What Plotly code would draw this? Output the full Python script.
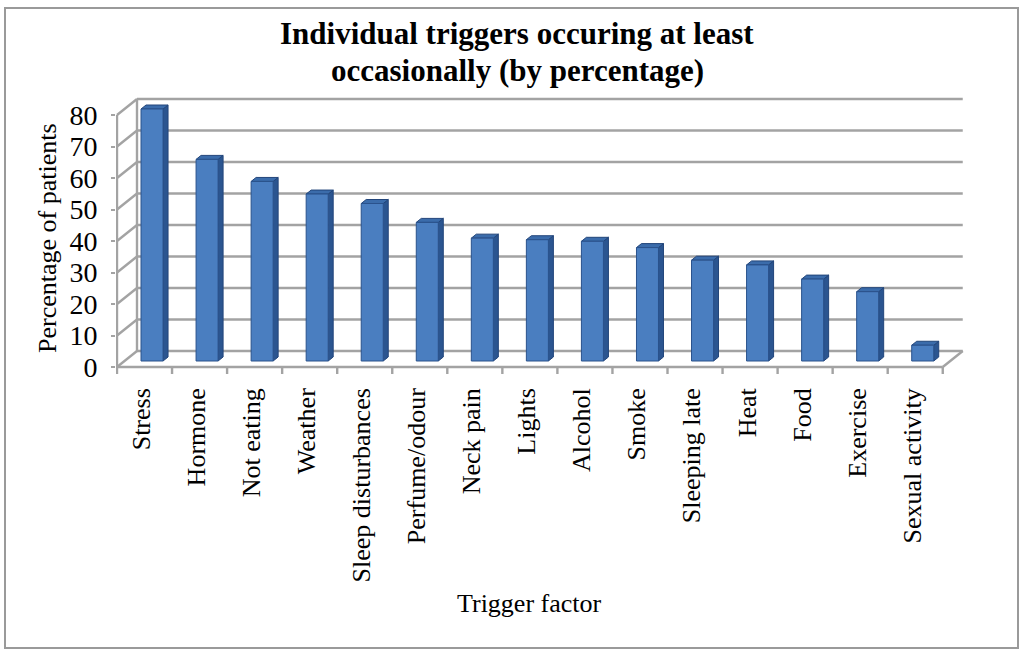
import plotly.graph_objects as go

# ---- data -------------------------------------------------------------
categories = ["Stress", "Hormone", "Not eating", "Weather", "Sleep disturbances",
              "Perfume/odour", "Neck pain", "Lights", "Alcohol", "Smoke",
              "Sleeping late", "Heat", "Food", "Exercise", "Sexual activity"]
percentages = [80, 64, 57, 53, 50, 44, 39, 38.5, 38, 36, 32, 30.5, 26, 22, 5]
y_ticks = [0, 10, 20, 30, 40, 50, 60, 70, 80]
title_lines = ["Individual triggers occuring at least", "occasionally (by percentage)"]

# ---- page geometry (pixels) ------------------------------------------
W, H = 1022, 650
PLOT_L, PLOT_R, PLOT_T, PLOT_B = 116, 975, 90, 376
FRONT_X0 = 117        # left end of the front floor edge
CAT_PX = 55.05        # width of one category slot
ZERO_PX = 367         # front floor edge (value 0)
UNIT_PX = 3.15        # pixels per percentage point
DEPTH_PX = (20, -16)  # offset from front floor edge to back wall

n = len(categories)
x_lo = -0.5 - (FRONT_X0 - PLOT_L) / CAT_PX
x_hi = -0.5 + (PLOT_R - FRONT_X0) / CAT_PX
y_lo = (ZERO_PX - PLOT_B) / UNIT_PX
y_hi = (ZERO_PX - PLOT_T) / UNIT_PX

# depth direction in data units
DX = DEPTH_PX[0] / CAT_PX
DY = -DEPTH_PX[1] / UNIT_PX

BAR_HALF = 0.2        # half bar width (category units)
BAR_F0 = 0.375        # depth fraction of bar front face
BAR_DEPTH = 0.25      # depth fraction occupied by a bar

GRID = "#a3a3a3"
SERIF = "Liberation Serif, Times New Roman, serif"


def px_x(px):
    return (px - PLOT_L) / (PLOT_R - PLOT_L)


def px_y(py):
    return (PLOT_B - py) / (PLOT_B - PLOT_T)


def seg_trace(segments, color, width):
    xs, ys = [], []
    for (xa, ya), (xb, yb) in segments:
        xs += [xa, xb, None]
        ys += [ya, yb, None]
    return go.Scatter(x=xs, y=ys, mode="lines", hoverinfo="skip",
                      line=dict(color=color, width=width), showlegend=False)


def poly_trace(polys, fill, edge):
    xs, ys = [], []
    for p in polys:
        for (px_, py_) in p + [p[0]]:
            xs.append(px_)
            ys.append(py_)
        xs.append(None)
        ys.append(None)
    return go.Scatter(x=xs, y=ys, mode="lines", fill="toself", fillcolor=fill,
                      line=dict(color=edge, width=1), hoverinfo="skip",
                      showlegend=False)


fig = go.Figure()

# back wall gridlines (the 0 line is the back edge of the floor)
left_back = -0.5 + DX
right_back = n - 0.5 + DX
walls = [((left_back, v + DY), (right_back, v + DY)) for v in y_ticks]
# side wall: vertical back edge and receding gridlines
walls.append(((left_back, DY), (left_back, y_ticks[-1] + DY)))
walls += [((-0.5, v), (left_back, v + DY)) for v in y_ticks]
# floor front and right edges
walls.append(((-0.5, 0), (n - 0.5, 0)))
walls.append(((n - 0.5, 0), (right_back, DY)))
# front vertical axis line
walls.append(((-0.5, 0), (-0.5, y_ticks[-1])))
# category boundary tick marks below the floor
tick_len = 7 / UNIT_PX
walls += [((-0.5 + k, 0), (-0.5 + k, -tick_len)) for k in range(n + 1)]
fig.add_trace(seg_trace(walls, GRID, 2.4))

# 3-D style columns: front face, right side, top
fronts, sides, tops = [], [], []
bdx, bdy = BAR_DEPTH * DX, BAR_DEPTH * DY
for i, v in enumerate(percentages):
    x0 = i - BAR_HALF + BAR_F0 * DX
    x1 = i + BAR_HALF + BAR_F0 * DX
    yb = BAR_F0 * DY
    yt = v + BAR_F0 * DY
    fronts.append([(x0, yb), (x1, yb), (x1, yt), (x0, yt)])
    sides.append([(x1, yb), (x1 + bdx, yb + bdy), (x1 + bdx, yt + bdy), (x1, yt)])
    tops.append([(x0, yt), (x1, yt), (x1 + bdx, yt + bdy), (x0 + bdx, yt + bdy)])

fig.add_trace(poly_trace(sides, "#2b5590", "#22457a"))
fig.add_trace(poly_trace(tops, "#3b6cab", "#22457a"))
fig.add_trace(poly_trace(fronts, "#4a7ec0", "#2a528c"))

title_font = dict(family=SERIF, size=31, color="black", weight="bold")
label_font = dict(family=SERIF, size=26, color="black")

fig.update_layout(
    width=W, height=H, autosize=False,
    margin=dict(l=PLOT_L, r=W - PLOT_R, t=PLOT_T, b=H - PLOT_B, pad=0),
    paper_bgcolor="white", plot_bgcolor="white",
    showlegend=False,
    font=dict(family=SERIF, color="black"),
    xaxis=dict(range=[x_lo, x_hi], tickmode="array",
               tickvals=list(range(n)), ticktext=categories,
               tickangle=-90, ticks="", showgrid=False, zeroline=False,
               showline=False, tickfont=dict(family=SERIF, size=26, color="black"),
               ticklabelstandoff=6, ticklabelshift=-3),
    yaxis=dict(range=[y_lo, y_hi], tickmode="array", tickvals=y_ticks,
               ticks="outside", ticklen=4, tickcolor=GRID, tickwidth=2,
               showgrid=False, zeroline=False, showline=False,
               tickfont=dict(family=SERIF, size=28, color="black"),
               ticklabelstandoff=8),
    annotations=[
        dict(text=title_lines[0], xref="paper", yref="paper",
             x=px_x(517), y=px_y(34), xanchor="center", yanchor="middle",
             showarrow=False, font=title_font),
        dict(text=title_lines[1], xref="paper", yref="paper",
             x=px_x(517), y=px_y(70.5), xanchor="center", yanchor="middle",
             showarrow=False, font=title_font),
        dict(text="Percentage of patients", textangle=-90,
             xref="paper", yref="paper", x=px_x(47), y=px_y(238),
             xanchor="center", yanchor="middle", showarrow=False,
             font=label_font),
        dict(text="Trigger factor",
             xref="paper", yref="paper", x=px_x(529), y=px_y(603),
             xanchor="center", yanchor="middle", showarrow=False,
             font=label_font),
    ],
    shapes=[dict(type="rect", xref="paper", yref="paper",
                 x0=px_x(5), x1=px_x(1018), y0=px_y(648), y1=px_y(8),
                 line=dict(color="#9a9a9a", width=2), fillcolor="rgba(0,0,0,0)",
                 layer="below")],
)

fig.write_html("out.html")
